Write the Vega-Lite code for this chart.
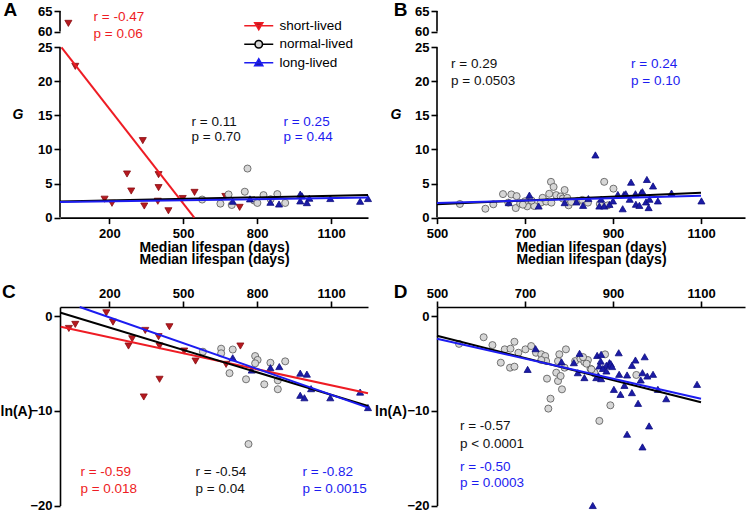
{
 "$schema": "https://vega.github.io/schema/vega-lite/v6.json",
 "background": "white",
 "padding": {"left": 0, "top": 0, "right": 2, "bottom": 2},
 "config": {
  "view": {"stroke": null},
  "text": {"font": "Liberation Sans"},
  "axis": {"labelFont": "Liberation Sans", "labelFontSize": 13, "labelFontWeight": "bold", "labelColor": "#000", "titleFont": "Liberation Sans", "titleFontSize": 14, "titleFontWeight": "bold", "titleColor": "#000", "domainColor": "#000", "tickColor": "#000", "domainWidth": 1.6, "tickWidth": 1.6, "tickSize": 6, "labelPadding": 2, "grid": false, "labelFlush": false, "labelOverlap": false, "format": "d"}
 },
 "datasets": {
  "A": [
   {"g":"short-lived","x":34,"y":62},{"g":"short-lived","x":62,"y":22.2},{"g":"short-lived","x":181,"y":2.7},{"g":"short-lived","x":211,"y":2.1},{"g":"short-lived","x":272,"y":6.4},{"g":"short-lived","x":289,"y":3.9},{"g":"short-lived","x":336,"y":11.3},{"g":"short-lived","x":342,"y":1.7},{"g":"short-lived","x":400,"y":6.3},{"g":"short-lived","x":400,"y":4.4},{"g":"short-lived","x":397,"y":2.4},{"g":"short-lived","x":440,"y":1.0},{"g":"short-lived","x":498,"y":2.8},{"g":"short-lived","x":546,"y":3.7},{"g":"short-lived","x":671,"y":3.1},{"g":"short-lived","x":729,"y":1.5},
   {"g":"normal-lived","x":577,"y":2.65},{"g":"normal-lived","x":651,"y":2.05},{"g":"normal-lived","x":684,"y":3.4},{"g":"normal-lived","x":697,"y":1.85},{"g":"normal-lived","x":750,"y":3.8},{"g":"normal-lived","x":761,"y":7.2},{"g":"normal-lived","x":788,"y":2.5},{"g":"normal-lived","x":801,"y":2.15},{"g":"normal-lived","x":826,"y":3.3},{"g":"normal-lived","x":882,"y":3.45},{"g":"normal-lived","x":914,"y":2.15},{"g":"normal-lived","x":855,"y":2.7},
   {"g":"long-lived","x":701,"y":2.4},{"g":"long-lived","x":771,"y":2.75},{"g":"long-lived","x":854,"y":2.25},{"g":"long-lived","x":889,"y":2.0},{"g":"long-lived","x":975,"y":3.45},{"g":"long-lived","x":982,"y":3.2},{"g":"long-lived","x":975,"y":2.45},{"g":"long-lived","x":1002,"y":2.2},{"g":"long-lived","x":1012,"y":2.85},{"g":"long-lived","x":1097,"y":2.8},{"g":"long-lived","x":1218,"y":2.4},{"g":"long-lived","x":1250,"y":2.8}
  ],
  "Alines": [
   {"g":"short-lived","x":6,"y":25},{"g":"short-lived","x":545,"y":0},
   {"g":"normal-lived","x":0,"y":2.35},{"g":"normal-lived","x":1250,"y":3.33},
   {"g":"long-lived","x":0,"y":2.3},{"g":"long-lived","x":1250,"y":2.94}
  ],
  "B": [
   {"g":"normal-lived","x":552,"y":2.0},{"g":"normal-lived","x":610,"y":1.3},{"g":"normal-lived","x":628,"y":1.95},{"g":"normal-lived","x":650,"y":3.45},{"g":"normal-lived","x":662,"y":2.2},{"g":"normal-lived","x":669,"y":3.4},{"g":"normal-lived","x":681,"y":3.15},{"g":"normal-lived","x":679,"y":1.4},{"g":"normal-lived","x":689,"y":2.1},{"g":"normal-lived","x":705,"y":1.65},{"g":"normal-lived","x":721,"y":1.7},{"g":"normal-lived","x":736,"y":2.2},{"g":"normal-lived","x":748,"y":2.35},{"g":"normal-lived","x":755,"y":3.5},{"g":"normal-lived","x":759,"y":5.25},{"g":"normal-lived","x":765,"y":4.5},{"g":"normal-lived","x":771,"y":3.3},{"g":"normal-lived","x":781,"y":3.1},{"g":"normal-lived","x":790,"y":4.05},{"g":"normal-lived","x":786,"y":2.8},{"g":"normal-lived","x":796,"y":2.9},{"g":"normal-lived","x":799,"y":1.8},{"g":"normal-lived","x":805,"y":2.3},{"g":"normal-lived","x":820,"y":2.45},{"g":"normal-lived","x":843,"y":2.2},{"g":"normal-lived","x":880,"y":5.25},{"g":"normal-lived","x":888,"y":1.8},{"g":"normal-lived","x":901,"y":4.25},{"g":"normal-lived","x":870,"y":2.0},{"g":"normal-lived","x":830,"y":2.6},{"g":"normal-lived","x":760,"y":2.2},{"g":"normal-lived","x":740,"y":2.9},{"g":"normal-lived","x":700,"y":2.4},{"g":"normal-lived","x":695,"y":1.9},{"g":"normal-lived","x":715,"y":2.5},
   {"g":"long-lived","x":663,"y":2.2},{"g":"long-lived","x":710,"y":3.3},{"g":"long-lived","x":731,"y":1.7},{"g":"long-lived","x":790,"y":2.2},{"g":"long-lived","x":817,"y":2.3},{"g":"long-lived","x":832,"y":1.8},{"g":"long-lived","x":844,"y":2.8},{"g":"long-lived","x":860,"y":9.2},{"g":"long-lived","x":869,"y":1.7},{"g":"long-lived","x":873,"y":2.7},{"g":"long-lived","x":880,"y":1.7},{"g":"long-lived","x":892,"y":1.95},{"g":"long-lived","x":900,"y":2.45},{"g":"long-lived","x":911,"y":3.4},{"g":"long-lived","x":922,"y":1.3},{"g":"long-lived","x":925,"y":3.4},{"g":"long-lived","x":929,"y":3.5},{"g":"long-lived","x":938,"y":2.7},{"g":"long-lived","x":941,"y":5.2},{"g":"long-lived","x":951,"y":3.5},{"g":"long-lived","x":952,"y":1.96},{"g":"long-lived","x":960,"y":1.8},{"g":"long-lived","x":964,"y":3.66},{"g":"long-lived","x":967,"y":3.8},{"g":"long-lived","x":975,"y":2.3},{"g":"long-lived","x":977,"y":5.6},{"g":"long-lived","x":981,"y":1.47},{"g":"long-lived","x":983,"y":2.7},{"g":"long-lived","x":991,"y":4.65},{"g":"long-lived","x":1002,"y":2.45},{"g":"long-lived","x":1033,"y":3.6},{"g":"long-lived","x":1101,"y":2.45}
  ],
  "Blines": [
   {"g":"normal-lived","x":500,"y":1.95},{"g":"normal-lived","x":1100,"y":3.65},
   {"g":"long-lived","x":500,"y":2.15},{"g":"long-lived","x":1100,"y":3.2}
  ],
  "C": [
   {"g":"short-lived","x":36,"y":-1.27},{"g":"short-lived","x":62,"y":-0.84},{"g":"short-lived","x":188,"y":0.38},{"g":"short-lived","x":215,"y":-0.6},{"g":"short-lived","x":278,"y":-3.13},{"g":"short-lived","x":293,"y":-2.36},{"g":"short-lived","x":346,"y":-1.48},{"g":"short-lived","x":340,"y":-8.52},{"g":"short-lived","x":400,"y":-2.14},{"g":"short-lived","x":404,"y":-3.13},{"g":"short-lived","x":404,"y":-6.65},{"g":"short-lived","x":444,"y":-1.09},{"g":"short-lived","x":504,"y":-3.66},{"g":"short-lived","x":550,"y":-4.72},{"g":"short-lived","x":674,"y":-5.07},{"g":"short-lived","x":732,"y":-3.13},
   {"g":"normal-lived","x":580,"y":-3.73},{"g":"normal-lived","x":654,"y":-3.41},{"g":"normal-lived","x":654,"y":-3.9},{"g":"normal-lived","x":701,"y":-3.5},{"g":"normal-lived","x":688,"y":-6.0},{"g":"normal-lived","x":755,"y":-6.65},{"g":"normal-lived","x":792,"y":-4.19},{"g":"normal-lived","x":802,"y":-4.6},{"g":"normal-lived","x":792,"y":-4.96},{"g":"normal-lived","x":829,"y":-7.18},{"g":"normal-lived","x":854,"y":-4.9},{"g":"normal-lived","x":884,"y":-6.76},{"g":"normal-lived","x":884,"y":-7.7},{"g":"normal-lived","x":914,"y":-4.75},{"g":"normal-lived","x":765,"y":-13.5},
   {"g":"long-lived","x":701,"y":-4.37},{"g":"long-lived","x":778,"y":-5.67},{"g":"long-lived","x":854,"y":-5.42},{"g":"long-lived","x":890,"y":-5.3},{"g":"long-lived","x":975,"y":-6.0},{"g":"long-lived","x":1002,"y":-6.1},{"g":"long-lived","x":975,"y":-8.34},{"g":"long-lived","x":992,"y":-8.6},{"g":"long-lived","x":1019,"y":-7.64},{"g":"long-lived","x":1097,"y":-8.6},{"g":"long-lived","x":1218,"y":-8.0},{"g":"long-lived","x":1250,"y":-9.64}
  ],
  "Clines": [
   {"g":"short-lived","x":3,"y":-1.09},{"g":"short-lived","x":1250,"y":-8.13},
   {"g":"normal-lived","x":3,"y":0.39},{"g":"normal-lived","x":1250,"y":-9.47},
   {"g":"long-lived","x":80,"y":1.0},{"g":"long-lived","x":1250,"y":-9.64}
  ],
  "D": [
   {"g":"normal-lived","x":550,"y":-2.9},{"g":"normal-lived","x":606,"y":-2.2},{"g":"normal-lived","x":626,"y":-3.03},{"g":"normal-lived","x":645,"y":-4.89},{"g":"normal-lived","x":654,"y":-3.48},{"g":"normal-lived","x":666,"y":-5.42},{"g":"normal-lived","x":676,"y":-5.31},{"g":"normal-lived","x":676,"y":-2.68},{"g":"normal-lived","x":667,"y":-3.41},{"g":"normal-lived","x":685,"y":-3.84},{"g":"normal-lived","x":701,"y":-3.48},{"g":"normal-lived","x":714,"y":-3.13},{"g":"normal-lived","x":725,"y":-3.84},{"g":"normal-lived","x":737,"y":-4.0},{"g":"normal-lived","x":746,"y":-4.19},{"g":"normal-lived","x":748,"y":-4.72},{"g":"normal-lived","x":737,"y":-4.61},{"g":"normal-lived","x":750,"y":-6.58},{"g":"normal-lived","x":758,"y":-8.7},{"g":"normal-lived","x":753,"y":-9.75},{"g":"normal-lived","x":771,"y":-5.95},{"g":"normal-lived","x":775,"y":-6.83},{"g":"normal-lived","x":781,"y":-6.3},{"g":"normal-lived","x":784,"y":-7.71},{"g":"normal-lived","x":778,"y":-4.0},{"g":"normal-lived","x":793,"y":-3.48},{"g":"normal-lived","x":775,"y":-4.72},{"g":"normal-lived","x":790,"y":-5.42},{"g":"normal-lived","x":814,"y":-4.72},{"g":"normal-lived","x":826,"y":-4.47},{"g":"normal-lived","x":835,"y":-4.82},{"g":"normal-lived","x":843,"y":-4.61},{"g":"normal-lived","x":849,"y":-5.53},{"g":"normal-lived","x":858,"y":-6.02},{"g":"normal-lived","x":869,"y":-11.05},{"g":"normal-lived","x":882,"y":-4.01},{"g":"normal-lived","x":858,"y":-5.95},{"g":"normal-lived","x":953,"y":-6.19},{"g":"normal-lived","x":894,"y":-9.4},{"g":"normal-lived","x":851,"y":-5.6},{"g":"normal-lived","x":832,"y":-4.3},{"g":"normal-lived","x":840,"y":-5.0},
   {"g":"long-lived","x":706,"y":-5.6},{"g":"long-lived","x":724,"y":-3.41},{"g":"long-lived","x":783,"y":-4.8},{"g":"long-lived","x":811,"y":-4.89},{"g":"long-lived","x":824,"y":-3.9},{"g":"long-lived","x":820,"y":-5.95},{"g":"long-lived","x":835,"y":-6.47},{"g":"long-lived","x":864,"y":-4.12},{"g":"long-lived","x":869,"y":-5.24},{"g":"long-lived","x":867,"y":-6.3},{"g":"long-lived","x":854,"y":-20.0},{"g":"long-lived","x":873,"y":-4.01},{"g":"long-lived","x":913,"y":-3.84},{"g":"long-lived","x":872,"y":-4.72},{"g":"long-lived","x":892,"y":-4.89},{"g":"long-lived","x":885,"y":-5.17},{"g":"long-lived","x":877,"y":-5.5},{"g":"long-lived","x":885,"y":-5.77},{"g":"long-lived","x":862,"y":-6.47},{"g":"long-lived","x":873,"y":-6.58},{"g":"long-lived","x":914,"y":-6.12},{"g":"long-lived","x":932,"y":-6.19},{"g":"long-lived","x":943,"y":-5.17},{"g":"long-lived","x":951,"y":-4.61},{"g":"long-lived","x":972,"y":-4.26},{"g":"long-lived","x":967,"y":-5.95},{"g":"long-lived","x":978,"y":-6.3},{"g":"long-lived","x":991,"y":-6.12},{"g":"long-lived","x":963,"y":-6.72},{"g":"long-lived","x":926,"y":-7.29},{"g":"long-lived","x":902,"y":-7.71},{"g":"long-lived","x":917,"y":-8.24},{"g":"long-lived","x":943,"y":-8.06},{"g":"long-lived","x":957,"y":-9.19},{"g":"long-lived","x":1002,"y":-7.71},{"g":"long-lived","x":1021,"y":-8.7},{"g":"long-lived","x":1091,"y":-7.18},{"g":"long-lived","x":982,"y":-11.58},{"g":"long-lived","x":932,"y":-12.46},{"g":"long-lived","x":967,"y":-13.8},{"g":"long-lived","x":895,"y":-5.0},{"g":"long-lived","x":898,"y":-5.3}
  ],
  "Dlines": [
   {"g":"normal-lived","x":500,"y":-2.05},{"g":"normal-lived","x":1100,"y":-9.08},
   {"g":"long-lived","x":500,"y":-2.35},{"g":"long-lived","x":1100,"y":-8.7}
  ]
 },
 "columns": 2,
 "spacing": {"row": 89, "column": 69},
 "bounds": "flush",
 "concat": [
    {
     "width": 308, "height": 206.6,
     "layer": [
      {"data": {"name": "A"}, "mark": {"type": "point", "filled": true, "size": 50, "strokeWidth": 0.8, "opacity": 1}, "encoding": {
        "x": {"field": "x", "type": "quantitative", "scale": {"domain": [0, 1250], "nice": false, "zero": false}, "axis": {"values": [200, 500, 800, 1100], "title": "Median lifespan (days)", "labelPadding": 4, "titlePadding": 0, "labelOverlap": false, "labelFlush": false}},
        "y": {"field": "y", "type": "quantitative", "scale": {"domain": [0, 25, 60, 65], "range": [206.6, 36.3, 20.6, 0], "nice": false, "zero": false}, "axis": {"values": [0, 5, 10, 15, 20, 25, 60, 65], "domain": false, "labelOverlap": false, "labelFlush": false, "title": "G", "titleAngle": 0, "titleX": -42.5, "titleY": 103.3, "titleAlign": "center", "titleBaseline": "middle", "titleFontStyle": "italic"}},
        "shape": {"field": "g", "type": "nominal", "scale": {"domain": ["short-lived", "normal-lived", "long-lived"], "range": ["triangle-down", "circle", "triangle-up"]}, "legend": null},
        "fill": {"field": "g", "type": "nominal", "scale": {"domain": ["short-lived", "normal-lived", "long-lived"], "range": ["#b5191f", "#d6d6d6", "#1b1ba6"]}, "legend": null},
        "stroke": {"field": "g", "type": "nominal", "scale": {"domain": ["short-lived", "normal-lived", "long-lived"], "range": ["#8a0d12", "#555555", "#0e0e80"]}, "legend": null}}},
      {"data": {"values": [{"s": 0, "e": 25}, {"s": 60, "e": 65}]}, "mark": {"type": "rule", "color": "#000", "strokeWidth": 1.6}, "encoding": {
        "x": {"datum": 0, "type": "quantitative", "scale": {"domain": [0, 1250], "nice": false, "zero": false}, "axis": {"values": [200, 500, 800, 1100], "title": "Median lifespan (days)", "labelPadding": 4, "titlePadding": 0, "labelOverlap": false, "labelFlush": false}},
        "y": {"field": "s", "type": "quantitative", "scale": {"domain": [0, 25, 60, 65], "range": [206.6, 36.3, 20.6, 0], "nice": false, "zero": false}, "axis": {"values": [0, 5, 10, 15, 20, 25, 60, 65], "domain": false, "labelOverlap": false, "labelFlush": false, "title": "G", "titleAngle": 0, "titleX": -42.5, "titleY": 103.3, "titleAlign": "center", "titleBaseline": "middle", "titleFontStyle": "italic"}},
        "y2": {"field": "e"}}},
      {"data": {"name": "Alines"}, "mark": {"type": "line", "strokeWidth": 2}, "encoding": {
        "x": {"field": "x", "type": "quantitative", "scale": {"domain": [0, 1250], "nice": false, "zero": false}, "axis": {"values": [200, 500, 800, 1100], "title": "Median lifespan (days)", "labelPadding": 4, "titlePadding": 0, "labelOverlap": false, "labelFlush": false}},
        "y": {"field": "y", "type": "quantitative", "scale": {"domain": [0, 25, 60, 65], "range": [206.6, 36.3, 20.6, 0], "nice": false, "zero": false}, "axis": {"values": [0, 5, 10, 15, 20, 25, 60, 65], "domain": false, "labelOverlap": false, "labelFlush": false, "title": "G", "titleAngle": 0, "titleX": -42.5, "titleY": 103.3, "titleAlign": "center", "titleBaseline": "middle", "titleFontStyle": "italic"}},
        "color": {"field": "g", "type": "nominal", "scale": {"domain": ["short-lived", "normal-lived", "long-lived"], "range": ["#ee1c24", "#000000", "#1c1cf0"]}, "legend": null}}},
      {"data": {"name": "A"}, "transform": [{"filter": "datum.x < -9999"}], "mark": {"type": "point", "filled": true, "size": 100, "strokeWidth": 1.6, "opacity": 1}, "encoding": {
        "x": {"field": "x", "type": "quantitative", "scale": {"domain": [0, 1250], "nice": false, "zero": false}, "axis": {"values": [200, 500, 800, 1100], "title": "Median lifespan (days)", "labelPadding": 4, "titlePadding": 0, "labelOverlap": false, "labelFlush": false}},
        "y": {"field": "y", "type": "quantitative", "scale": {"domain": [0, 25, 60, 65], "range": [206.6, 36.3, 20.6, 0], "nice": false, "zero": false}, "axis": {"values": [0, 5, 10, 15, 20, 25, 60, 65], "domain": false, "labelOverlap": false, "labelFlush": false, "title": "G", "titleAngle": 0, "titleX": -42.5, "titleY": 103.3, "titleAlign": "center", "titleBaseline": "middle", "titleFontStyle": "italic"}},
        "shape": {"field": "g", "type": "nominal", "scale": {"domain": ["short-lived", "normal-lived", "long-lived"], "range": ["M-2.9,0L2.9,0M-0.8,-0.6L0.8,-0.6L0,0.8Z", "M-2.9,0L-0.75,0M0.75,0L2.9,0M0.75,0A0.75,0.75,0,1,1,-0.75,0A0.75,0.75,0,1,1,0.75,0Z", "M-2.9,0L2.9,0M-0.8,0.6L0.8,0.6L0,-0.8Z"]}, "legend": {"title": null, "orient": "none", "legendX": 192, "legendY": 8, "symbolSize": 100, "symbolStrokeWidth": 1.6, "labelFont": "Liberation Sans", "labelFontSize": 13.5, "labelColor": "#000", "labelOffset": 14, "rowPadding": 3.5}},
        "fill": {"field": "g", "type": "nominal", "scale": {"domain": ["short-lived", "normal-lived", "long-lived"], "range": ["#b5191f", "#d6d6d6", "#1b1ba6"]}, "legend": {"title": null, "orient": "none", "legendX": 192, "legendY": 8, "symbolSize": 100, "symbolStrokeWidth": 1.6, "labelFont": "Liberation Sans", "labelFontSize": 13.5, "labelColor": "#000", "labelOffset": 14, "rowPadding": 3.5}},
        "stroke": {"field": "g", "type": "nominal", "scale": {"domain": ["short-lived", "normal-lived", "long-lived"], "range": ["#ee1c24", "#000000", "#1c1cf0"]}, "legend": {"title": null, "orient": "none", "legendX": 192, "legendY": 8, "symbolSize": 100, "symbolStrokeWidth": 1.6, "labelFont": "Liberation Sans", "labelFontSize": 13.5, "labelColor": "#000", "labelOffset": 14, "rowPadding": 3.5}}}},
      {"data": {"values": [{"t": ["r = -0.47", "p = 0.06"]}]}, "mark": {"type": "text", "align": "left", "baseline": "top", "fontSize": 13.5, "lineHeight": 16.6, "color": "#ee1c24"}, "encoding": {"text": {"field": "t"},
        "x": {"datum": 136, "type": "quantitative", "scale": {"domain": [0, 1250], "nice": false, "zero": false}, "axis": {"values": [200, 500, 800, 1100], "title": "Median lifespan (days)", "labelPadding": 4, "titlePadding": 0, "labelOverlap": false, "labelFlush": false}},
        "y": {"datum": 65.15, "type": "quantitative", "scale": {"domain": [0, 25, 60, 65], "range": [206.6, 36.3, 20.6, 0], "nice": false, "zero": false}, "axis": {"values": [0, 5, 10, 15, 20, 25, 60, 65], "domain": false, "labelOverlap": false, "labelFlush": false, "title": "G", "titleAngle": 0, "titleX": -42.5, "titleY": 103.3, "titleAlign": "center", "titleBaseline": "middle", "titleFontStyle": "italic"}}}},
      {"data": {"values": [{"t": ["r = 0.11", "p = 0.70"]}]}, "mark": {"type": "text", "align": "left", "baseline": "top", "fontSize": 13.5, "lineHeight": 15.6, "color": "#111"}, "encoding": {"text": {"field": "t"},
        "x": {"datum": 534, "type": "quantitative", "scale": {"domain": [0, 1250], "nice": false, "zero": false}, "axis": {"values": [200, 500, 800, 1100], "title": "Median lifespan (days)", "labelPadding": 4, "titlePadding": 0, "labelOverlap": false, "labelFlush": false}},
        "y": {"datum": 15.1, "type": "quantitative", "scale": {"domain": [0, 25, 60, 65], "range": [206.6, 36.3, 20.6, 0], "nice": false, "zero": false}, "axis": {"values": [0, 5, 10, 15, 20, 25, 60, 65], "domain": false, "labelOverlap": false, "labelFlush": false, "title": "G", "titleAngle": 0, "titleX": -42.5, "titleY": 103.3, "titleAlign": "center", "titleBaseline": "middle", "titleFontStyle": "italic"}}}},
      {"data": {"values": [{"t": ["r = 0.25", "p = 0.44"]}]}, "mark": {"type": "text", "align": "left", "baseline": "top", "fontSize": 13.5, "lineHeight": 15.6, "color": "#1c1cf0"}, "encoding": {"text": {"field": "t"},
        "x": {"datum": 907, "type": "quantitative", "scale": {"domain": [0, 1250], "nice": false, "zero": false}, "axis": {"values": [200, 500, 800, 1100], "title": "Median lifespan (days)", "labelPadding": 4, "titlePadding": 0, "labelOverlap": false, "labelFlush": false}},
        "y": {"datum": 15.1, "type": "quantitative", "scale": {"domain": [0, 25, 60, 65], "range": [206.6, 36.3, 20.6, 0], "nice": false, "zero": false}, "axis": {"values": [0, 5, 10, 15, 20, 25, 60, 65], "domain": false, "labelOverlap": false, "labelFlush": false, "title": "G", "titleAngle": 0, "titleX": -42.5, "titleY": 103.3, "titleAlign": "center", "titleBaseline": "middle", "titleFontStyle": "italic"}}}},
      {"data": {"values": [{"t": "A"}]}, "mark": {"type": "text", "align": "left", "baseline": "alphabetic", "fontSize": 19, "fontWeight": "bold", "color": "#000"}, "encoding": {"text": {"field": "t"},
        "x": {"datum": -229, "type": "quantitative", "scale": {"domain": [0, 1250], "nice": false, "zero": false}, "axis": {"values": [200, 500, 800, 1100], "title": "Median lifespan (days)", "labelPadding": 4, "titlePadding": 0, "labelOverlap": false, "labelFlush": false}},
        "y": {"datum": 63.8, "type": "quantitative", "scale": {"domain": [0, 25, 60, 65], "range": [206.6, 36.3, 20.6, 0], "nice": false, "zero": false}, "axis": {"values": [0, 5, 10, 15, 20, 25, 60, 65], "domain": false, "labelOverlap": false, "labelFlush": false, "title": "G", "titleAngle": 0, "titleX": -42.5, "titleY": 103.3, "titleAlign": "center", "titleBaseline": "middle", "titleFontStyle": "italic"}}}}
     ],
     "resolve": {"scale": {"fill": "independent", "stroke": "independent", "shape": "independent"}}
    },
    {
     "width": 308, "height": 206.6,
     "layer": [
      {"data": {"name": "B"}, "mark": {"type": "point", "filled": true, "size": 50, "strokeWidth": 0.8, "opacity": 1}, "encoding": {
        "x": {"field": "x", "type": "quantitative", "scale": {"domain": [500, 1200], "nice": false, "zero": false}, "axis": {"values": [500, 700, 900, 1100], "title": "Median lifespan (days)", "labelPadding": 4, "titlePadding": 0, "labelOverlap": false, "labelFlush": false}},
        "y": {"field": "y", "type": "quantitative", "scale": {"domain": [0, 25, 60, 65], "range": [206.6, 36.3, 20.6, 0], "nice": false, "zero": false}, "axis": {"values": [0, 5, 10, 15, 20, 25, 60, 65], "domain": false, "labelOverlap": false, "labelFlush": false, "title": "G", "titleAngle": 0, "titleX": -41.6, "titleY": 103.3, "titleAlign": "center", "titleBaseline": "middle", "titleFontStyle": "italic"}},
        "shape": {"field": "g", "type": "nominal", "scale": {"domain": ["short-lived", "normal-lived", "long-lived"], "range": ["triangle-down", "circle", "triangle-up"]}, "legend": null},
        "fill": {"field": "g", "type": "nominal", "scale": {"domain": ["short-lived", "normal-lived", "long-lived"], "range": ["#b5191f", "#d6d6d6", "#1b1ba6"]}, "legend": null},
        "stroke": {"field": "g", "type": "nominal", "scale": {"domain": ["short-lived", "normal-lived", "long-lived"], "range": ["#8a0d12", "#555555", "#0e0e80"]}, "legend": null}}},
      {"data": {"values": [{"s": 0, "e": 25}, {"s": 60, "e": 65}]}, "mark": {"type": "rule", "color": "#000", "strokeWidth": 1.6}, "encoding": {
        "x": {"datum": 500, "type": "quantitative", "scale": {"domain": [500, 1200], "nice": false, "zero": false}, "axis": {"values": [500, 700, 900, 1100], "title": "Median lifespan (days)", "labelPadding": 4, "titlePadding": 0, "labelOverlap": false, "labelFlush": false}},
        "y": {"field": "s", "type": "quantitative", "scale": {"domain": [0, 25, 60, 65], "range": [206.6, 36.3, 20.6, 0], "nice": false, "zero": false}, "axis": {"values": [0, 5, 10, 15, 20, 25, 60, 65], "domain": false, "labelOverlap": false, "labelFlush": false, "title": "G", "titleAngle": 0, "titleX": -41.6, "titleY": 103.3, "titleAlign": "center", "titleBaseline": "middle", "titleFontStyle": "italic"}},
        "y2": {"field": "e"}}},
      {"data": {"name": "Blines"}, "mark": {"type": "line", "strokeWidth": 2}, "encoding": {
        "x": {"field": "x", "type": "quantitative", "scale": {"domain": [500, 1200], "nice": false, "zero": false}, "axis": {"values": [500, 700, 900, 1100], "title": "Median lifespan (days)", "labelPadding": 4, "titlePadding": 0, "labelOverlap": false, "labelFlush": false}},
        "y": {"field": "y", "type": "quantitative", "scale": {"domain": [0, 25, 60, 65], "range": [206.6, 36.3, 20.6, 0], "nice": false, "zero": false}, "axis": {"values": [0, 5, 10, 15, 20, 25, 60, 65], "domain": false, "labelOverlap": false, "labelFlush": false, "title": "G", "titleAngle": 0, "titleX": -41.6, "titleY": 103.3, "titleAlign": "center", "titleBaseline": "middle", "titleFontStyle": "italic"}},
        "color": {"field": "g", "type": "nominal", "scale": {"domain": ["short-lived", "normal-lived", "long-lived"], "range": ["#ee1c24", "#000000", "#1c1cf0"]}, "legend": null}}},
      {"data": {"values": [{"t": ["r = 0.29", "p = 0.0503"]}]}, "mark": {"type": "text", "align": "left", "baseline": "top", "fontSize": 13.5, "lineHeight": 17, "color": "#111"}, "encoding": {"text": {"field": "t"},
        "x": {"datum": 532, "type": "quantitative", "scale": {"domain": [500, 1200], "nice": false, "zero": false}, "axis": {"values": [500, 700, 900, 1100], "title": "Median lifespan (days)", "labelPadding": 4, "titlePadding": 0, "labelOverlap": false, "labelFlush": false}},
        "y": {"datum": 23.6, "type": "quantitative", "scale": {"domain": [0, 25, 60, 65], "range": [206.6, 36.3, 20.6, 0], "nice": false, "zero": false}, "axis": {"values": [0, 5, 10, 15, 20, 25, 60, 65], "domain": false, "labelOverlap": false, "labelFlush": false, "title": "G", "titleAngle": 0, "titleX": -41.6, "titleY": 103.3, "titleAlign": "center", "titleBaseline": "middle", "titleFontStyle": "italic"}}}},
      {"data": {"values": [{"t": ["r = 0.24", "p = 0.10"]}]}, "mark": {"type": "text", "align": "left", "baseline": "top", "fontSize": 13.5, "lineHeight": 17, "color": "#1c1cf0"}, "encoding": {"text": {"field": "t"},
        "x": {"datum": 941, "type": "quantitative", "scale": {"domain": [500, 1200], "nice": false, "zero": false}, "axis": {"values": [500, 700, 900, 1100], "title": "Median lifespan (days)", "labelPadding": 4, "titlePadding": 0, "labelOverlap": false, "labelFlush": false}},
        "y": {"datum": 23.6, "type": "quantitative", "scale": {"domain": [0, 25, 60, 65], "range": [206.6, 36.3, 20.6, 0], "nice": false, "zero": false}, "axis": {"values": [0, 5, 10, 15, 20, 25, 60, 65], "domain": false, "labelOverlap": false, "labelFlush": false, "title": "G", "titleAngle": 0, "titleX": -41.6, "titleY": 103.3, "titleAlign": "center", "titleBaseline": "middle", "titleFontStyle": "italic"}}}},
      {"data": {"values": [{"t": "B"}]}, "mark": {"type": "text", "align": "left", "baseline": "alphabetic", "fontSize": 19, "fontWeight": "bold", "color": "#000"}, "encoding": {"text": {"field": "t"},
        "x": {"datum": 401.6, "type": "quantitative", "scale": {"domain": [500, 1200], "nice": false, "zero": false}, "axis": {"values": [500, 700, 900, 1100], "title": "Median lifespan (days)", "labelPadding": 4, "titlePadding": 0, "labelOverlap": false, "labelFlush": false}},
        "y": {"datum": 63.8, "type": "quantitative", "scale": {"domain": [0, 25, 60, 65], "range": [206.6, 36.3, 20.6, 0], "nice": false, "zero": false}, "axis": {"values": [0, 5, 10, 15, 20, 25, 60, 65], "domain": false, "labelOverlap": false, "labelFlush": false, "title": "G", "titleAngle": 0, "titleX": -41.6, "titleY": 103.3, "titleAlign": "center", "titleBaseline": "middle", "titleFontStyle": "italic"}}}}
     ]
    },
    {
     "width": 308, "height": 198.5,
     "layer": [
      {"data": {"name": "C"}, "mark": {"type": "point", "filled": true, "size": 50, "strokeWidth": 0.8, "opacity": 1}, "encoding": {
        "x": {"field": "x", "type": "quantitative", "scale": {"domain": [0, 1250], "nice": false, "zero": false}, "axis": {"orient": "top", "values": [200, 500, 800, 1100], "title": "Median lifespan (days)", "labelPadding": 1, "titlePadding": 20.5, "labelOverlap": false, "labelFlush": false}},
        "y": {"field": "y", "type": "quantitative", "scale": {"domain": [-20, 1], "nice": false, "zero": false}, "axis": {"values": [-20, -10, 0], "labelOverlap": false, "labelFlush": false, "title": "ln(A)", "titleAngle": 0, "titleX": -60, "titleY": 104, "titleAlign": "left", "titleBaseline": "middle"}},
        "shape": {"field": "g", "type": "nominal", "scale": {"domain": ["short-lived", "normal-lived", "long-lived"], "range": ["triangle-down", "circle", "triangle-up"]}, "legend": null},
        "fill": {"field": "g", "type": "nominal", "scale": {"domain": ["short-lived", "normal-lived", "long-lived"], "range": ["#b5191f", "#d6d6d6", "#1b1ba6"]}, "legend": null},
        "stroke": {"field": "g", "type": "nominal", "scale": {"domain": ["short-lived", "normal-lived", "long-lived"], "range": ["#8a0d12", "#555555", "#0e0e80"]}, "legend": null}}},
      {"data": {"name": "Clines"}, "mark": {"type": "line", "strokeWidth": 2}, "encoding": {
        "x": {"field": "x", "type": "quantitative", "scale": {"domain": [0, 1250], "nice": false, "zero": false}, "axis": {"orient": "top", "values": [200, 500, 800, 1100], "title": "Median lifespan (days)", "labelPadding": 1, "titlePadding": 20.5, "labelOverlap": false, "labelFlush": false}},
        "y": {"field": "y", "type": "quantitative", "scale": {"domain": [-20, 1], "nice": false, "zero": false}, "axis": {"values": [-20, -10, 0], "labelOverlap": false, "labelFlush": false, "title": "ln(A)", "titleAngle": 0, "titleX": -60, "titleY": 104, "titleAlign": "left", "titleBaseline": "middle"}},
        "color": {"field": "g", "type": "nominal", "scale": {"domain": ["short-lived", "normal-lived", "long-lived"], "range": ["#ee1c24", "#000000", "#1c1cf0"]}, "legend": null}}},
      {"data": {"values": [{"t": ["r = -0.59", "p = 0.018"]}]}, "mark": {"type": "text", "align": "left", "baseline": "top", "fontSize": 13.5, "lineHeight": 17, "color": "#ee1c24"}, "encoding": {"text": {"field": "t"},
        "x": {"datum": 83, "type": "quantitative", "scale": {"domain": [0, 1250], "nice": false, "zero": false}, "axis": {"orient": "top", "values": [200, 500, 800, 1100], "title": "Median lifespan (days)", "labelPadding": 1, "titlePadding": 20.5, "labelOverlap": false, "labelFlush": false}},
        "y": {"datum": -15.76, "type": "quantitative", "scale": {"domain": [-20, 1], "nice": false, "zero": false}, "axis": {"values": [-20, -10, 0], "labelOverlap": false, "labelFlush": false, "title": "ln(A)", "titleAngle": 0, "titleX": -60, "titleY": 104, "titleAlign": "left", "titleBaseline": "middle"}}}},
      {"data": {"values": [{"t": ["r = -0.54", "p = 0.04"]}]}, "mark": {"type": "text", "align": "left", "baseline": "top", "fontSize": 13.5, "lineHeight": 17, "color": "#111"}, "encoding": {"text": {"field": "t"},
        "x": {"datum": 550, "type": "quantitative", "scale": {"domain": [0, 1250], "nice": false, "zero": false}, "axis": {"orient": "top", "values": [200, 500, 800, 1100], "title": "Median lifespan (days)", "labelPadding": 1, "titlePadding": 20.5, "labelOverlap": false, "labelFlush": false}},
        "y": {"datum": -15.76, "type": "quantitative", "scale": {"domain": [-20, 1], "nice": false, "zero": false}, "axis": {"values": [-20, -10, 0], "labelOverlap": false, "labelFlush": false, "title": "ln(A)", "titleAngle": 0, "titleX": -60, "titleY": 104, "titleAlign": "left", "titleBaseline": "middle"}}}},
      {"data": {"values": [{"t": ["r = -0.82", "p = 0.0015"]}]}, "mark": {"type": "text", "align": "left", "baseline": "top", "fontSize": 13.5, "lineHeight": 17, "color": "#1c1cf0"}, "encoding": {"text": {"field": "t"},
        "x": {"datum": 984, "type": "quantitative", "scale": {"domain": [0, 1250], "nice": false, "zero": false}, "axis": {"orient": "top", "values": [200, 500, 800, 1100], "title": "Median lifespan (days)", "labelPadding": 1, "titlePadding": 20.5, "labelOverlap": false, "labelFlush": false}},
        "y": {"datum": -15.76, "type": "quantitative", "scale": {"domain": [-20, 1], "nice": false, "zero": false}, "axis": {"values": [-20, -10, 0], "labelOverlap": false, "labelFlush": false, "title": "ln(A)", "titleAngle": 0, "titleX": -60, "titleY": 104, "titleAlign": "left", "titleBaseline": "middle"}}}},
      {"data": {"values": [{"t": "C"}]}, "mark": {"type": "text", "align": "left", "baseline": "alphabetic", "fontSize": 19, "fontWeight": "bold", "color": "#000"}, "encoding": {"text": {"field": "t"},
        "x": {"datum": -235, "type": "quantitative", "scale": {"domain": [0, 1250], "nice": false, "zero": false}, "axis": {"orient": "top", "values": [200, 500, 800, 1100], "title": "Median lifespan (days)", "labelPadding": 1, "titlePadding": 20.5, "labelOverlap": false, "labelFlush": false}},
        "y": {"datum": 1.97, "type": "quantitative", "scale": {"domain": [-20, 1], "nice": false, "zero": false}, "axis": {"values": [-20, -10, 0], "labelOverlap": false, "labelFlush": false, "title": "ln(A)", "titleAngle": 0, "titleX": -60, "titleY": 104, "titleAlign": "left", "titleBaseline": "middle"}}}}
     ]
    },
    {
     "width": 308, "height": 198.5,
     "layer": [
      {"data": {"name": "D"}, "mark": {"type": "point", "filled": true, "size": 50, "strokeWidth": 0.8, "opacity": 1}, "encoding": {
        "x": {"field": "x", "type": "quantitative", "scale": {"domain": [500, 1200], "nice": false, "zero": false}, "axis": {"orient": "top", "values": [500, 700, 900, 1100], "title": "Median lifespan (days)", "labelPadding": 1, "titlePadding": 20.5, "labelOverlap": false, "labelFlush": false}},
        "y": {"field": "y", "type": "quantitative", "scale": {"domain": [-20, 1], "nice": false, "zero": false}, "axis": {"values": [-20, -10, 0], "labelOverlap": false, "labelFlush": false, "title": "ln(A)", "titleAngle": 0, "titleX": -62.5, "titleY": 104, "titleAlign": "left", "titleBaseline": "middle"}},
        "shape": {"field": "g", "type": "nominal", "scale": {"domain": ["short-lived", "normal-lived", "long-lived"], "range": ["triangle-down", "circle", "triangle-up"]}, "legend": null},
        "fill": {"field": "g", "type": "nominal", "scale": {"domain": ["short-lived", "normal-lived", "long-lived"], "range": ["#b5191f", "#d6d6d6", "#1b1ba6"]}, "legend": null},
        "stroke": {"field": "g", "type": "nominal", "scale": {"domain": ["short-lived", "normal-lived", "long-lived"], "range": ["#8a0d12", "#555555", "#0e0e80"]}, "legend": null}}},
      {"data": {"name": "Dlines"}, "mark": {"type": "line", "strokeWidth": 2}, "encoding": {
        "x": {"field": "x", "type": "quantitative", "scale": {"domain": [500, 1200], "nice": false, "zero": false}, "axis": {"orient": "top", "values": [500, 700, 900, 1100], "title": "Median lifespan (days)", "labelPadding": 1, "titlePadding": 20.5, "labelOverlap": false, "labelFlush": false}},
        "y": {"field": "y", "type": "quantitative", "scale": {"domain": [-20, 1], "nice": false, "zero": false}, "axis": {"values": [-20, -10, 0], "labelOverlap": false, "labelFlush": false, "title": "ln(A)", "titleAngle": 0, "titleX": -62.5, "titleY": 104, "titleAlign": "left", "titleBaseline": "middle"}},
        "color": {"field": "g", "type": "nominal", "scale": {"domain": ["short-lived", "normal-lived", "long-lived"], "range": ["#ee1c24", "#000000", "#1c1cf0"]}, "legend": null}}},
      {"data": {"values": [{"t": ["r = -0.57", "p < 0.0001"]}]}, "mark": {"type": "text", "align": "left", "baseline": "top", "fontSize": 13.5, "lineHeight": 17.5, "color": "#111"}, "encoding": {"text": {"field": "t"},
        "x": {"datum": 552, "type": "quantitative", "scale": {"domain": [500, 1200], "nice": false, "zero": false}, "axis": {"orient": "top", "values": [500, 700, 900, 1100], "title": "Median lifespan (days)", "labelPadding": 1, "titlePadding": 20.5, "labelOverlap": false, "labelFlush": false}},
        "y": {"datum": -10.88, "type": "quantitative", "scale": {"domain": [-20, 1], "nice": false, "zero": false}, "axis": {"values": [-20, -10, 0], "labelOverlap": false, "labelFlush": false, "title": "ln(A)", "titleAngle": 0, "titleX": -62.5, "titleY": 104, "titleAlign": "left", "titleBaseline": "middle"}}}},
      {"data": {"values": [{"t": ["r = -0.50", "p = 0.0003"]}]}, "mark": {"type": "text", "align": "left", "baseline": "top", "fontSize": 13.5, "lineHeight": 16, "color": "#1c1cf0"}, "encoding": {"text": {"field": "t"},
        "x": {"datum": 552, "type": "quantitative", "scale": {"domain": [500, 1200], "nice": false, "zero": false}, "axis": {"orient": "top", "values": [500, 700, 900, 1100], "title": "Median lifespan (days)", "labelPadding": 1, "titlePadding": 20.5, "labelOverlap": false, "labelFlush": false}},
        "y": {"datum": -15.2, "type": "quantitative", "scale": {"domain": [-20, 1], "nice": false, "zero": false}, "axis": {"values": [-20, -10, 0], "labelOverlap": false, "labelFlush": false, "title": "ln(A)", "titleAngle": 0, "titleX": -62.5, "titleY": 104, "titleAlign": "left", "titleBaseline": "middle"}}}},
      {"data": {"values": [{"t": "D"}]}, "mark": {"type": "text", "align": "left", "baseline": "alphabetic", "fontSize": 19, "fontWeight": "bold", "color": "#000"}, "encoding": {"text": {"field": "t"},
        "x": {"datum": 401.6, "type": "quantitative", "scale": {"domain": [500, 1200], "nice": false, "zero": false}, "axis": {"orient": "top", "values": [500, 700, 900, 1100], "title": "Median lifespan (days)", "labelPadding": 1, "titlePadding": 20.5, "labelOverlap": false, "labelFlush": false}},
        "y": {"datum": 1.97, "type": "quantitative", "scale": {"domain": [-20, 1], "nice": false, "zero": false}, "axis": {"values": [-20, -10, 0], "labelOverlap": false, "labelFlush": false, "title": "ln(A)", "titleAngle": 0, "titleX": -62.5, "titleY": 104, "titleAlign": "left", "titleBaseline": "middle"}}}}
     ]
    }
 ]
}
